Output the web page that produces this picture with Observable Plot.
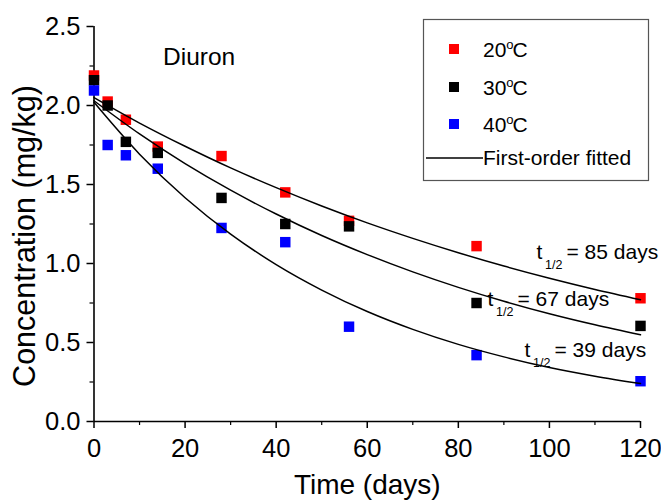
<!DOCTYPE html>
<html><head><meta charset="utf-8">
<script src="https://cdn.jsdelivr.net/npm/d3@7"></script>
<script src="https://cdn.jsdelivr.net/npm/@observablehq/plot@0.6"></script>
<style>
body{margin:0;background:#fff;}
#wrap{position:relative;width:661px;height:500px;font-family:"Liberation Sans",Arial,sans-serif;}
#wrap svg{position:absolute;left:0;top:0;}
</style></head><body><div id="wrap"></div>
<script>
// measured data
const days = [0, 3, 7, 14, 28, 42, 56, 84, 120];
const c20 = [2.19, 2.025, 1.91, 1.74, 1.68, 1.45, 1.27, 1.11, 0.78];
const c30 = [2.16, 2.00, 1.77, 1.70, 1.415, 1.25, 1.235, 0.75, 0.605];
const c40 = [2.095, 1.75, 1.685, 1.60, 1.225, 1.135, 0.60, 0.42, 0.255];
// fitted curves
const fitDays = [0, 10, 20, 30, 40, 50, 60, 70, 80, 90, 100, 110, 120];
const fit20 = [2.05, 1.889, 1.742, 1.605, 1.480, 1.364, 1.257, 1.159, 1.068, 0.984, 0.907, 0.836, 0.771];
const fit30 = [2.03, 1.820, 1.632, 1.464, 1.313, 1.177, 1.056, 0.947, 0.849, 0.761, 0.682, 0.612, 0.549];
const fit40 = [2.02, 1.692, 1.416, 1.186, 0.993, 0.832, 0.696, 0.583, 0.488, 0.409, 0.342, 0.287, 0.240];
const seriesNames = ["20", "30", "40"];
const halfLives = ["85", "67", "39"];
const xTicks = [0, 20, 40, 60, 80, 100, 120];
const xMinor = [10, 30, 50, 70, 90, 110];
const yTicks = [0, 0.5, 1.0, 1.5, 2.0, 2.5];
const yMinor = [0.25, 0.75, 1.25, 1.75, 2.25];
const xTitle = "Time (days)";
const yTitle = "Concentration (mg/kg)";
const chartLabel = "Diuron";
const fitLabel = "First-order fitted";

const colors = ["#ff0000", "#000000", "#0000ff"];
const measured = [c20, c30, c40];
const fits = [fit20, fit30, fit40];

const points = [];
measured.forEach((arr, s) => arr.forEach((v, i) => points.push({s, t: days[i], v})));
const curves = [];
fits.forEach((arr, s) => arr.forEach((v, i) => curves.push({s, t: fitDays[i], v})));

// annotation offsets (pixels) relative to the end of each fitted curve
const annOff = [{dx: -104, dy: -41}, {dx: -153, dy: -29}, {dx: -116, dy: -27}];
const font = "Liberation Sans, Arial, sans-serif";

const annMarks = [];
halfLives.forEach((h, s) => {
  const end = [{t: fitDays[fitDays.length - 1], v: fits[s][fits[s].length - 1]}];
  const o = annOff[s];
  annMarks.push(Plot.text(end, {x: "t", y: "v", text: () => "t", textAnchor: "start", lineAnchor: "bottom", dx: o.dx, dy: o.dy, fontSize: 21}));
  annMarks.push(Plot.text(end, {x: "t", y: "v", text: () => "1/2", textAnchor: "start", lineAnchor: "bottom", dx: o.dx + 8.5, dy: o.dy + 10, fontSize: 12.5}));
  annMarks.push(Plot.text(end, {x: "t", y: "v", text: () => "= " + h + " days", textAnchor: "start", lineAnchor: "bottom", dx: o.dx + 30, dy: o.dy, fontSize: 21}));
});

const plot = Plot.plot({
  width: 661, height: 500,
  marginLeft: 93.5, marginRight: 21, marginTop: 26, marginBottom: 79,
  x: {domain: [0, 120]},
  y: {domain: [0, 2.5]},
  style: {fontFamily: font, color: "#000", background: "white", overflow: "visible"},
  marks: [
    Plot.axisX({ticks: xTicks, tickSize: 7, tickPadding: 10, fontSize: 25.5, label: null, strokeWidth: 1.5, tickFormat: d => String(d)}),
    Plot.axisX({ticks: xMinor, tickSize: 4, label: null, strokeWidth: 1.2, tickFormat: () => ""}),
    Plot.axisY({ticks: yTicks, tickSize: 7, tickPadding: 6.5, fontSize: 25.5, label: null, strokeWidth: 1.5, tickFormat: d3.format(".1f")}),
    Plot.axisY({ticks: yMinor, tickSize: 4, label: null, strokeWidth: 1.2, tickFormat: () => ""}),
    Plot.ruleX([0], {strokeWidth: 1.6}),
    Plot.ruleY([0], {strokeWidth: 1.6}),
    Plot.dot(points, {x: "t", y: "v", symbol: "square", r: 5.9, fill: d => colors[d.s], stroke: null}),
    Plot.line(curves, {x: "t", y: "v", z: "s", curve: "catmull-rom", stroke: "#000", strokeWidth: 1.5}),
    Plot.text([xTitle], {frameAnchor: "bottom", lineAnchor: "bottom", dy: 72, fontSize: 28}),
    Plot.text([yTitle], {frameAnchor: "left", textAnchor: "middle", rotate: -90, lineAnchor: "middle", dx: -68.5, dy: 12, fontSize: 30.5}),
    Plot.text([chartLabel], {frameAnchor: "top-left", textAnchor: "start", lineAnchor: "bottom", dx: 69, dy: 38.5, fontSize: 24.5}),
    ...annMarks
  ]
});
const wrap = document.getElementById("wrap");
wrap.appendChild(plot);

// legend overlay
const leg = d3.select(wrap).append("svg").attr("width", 661).attr("height", 500)
  .style("pointer-events", "none").attr("font-family", font);
leg.append("rect").attr("x", 423.5).attr("y", 19.5).attr("width", 225).attr("height", 161)
  .attr("fill", "white").attr("stroke", "#555").attr("stroke-width", 1.2);
const rowY = [49, 87, 124];
seriesNames.forEach((name, i) => {
  leg.append("rect").attr("x", 449).attr("y", rowY[i] - 5).attr("width", 10).attr("height", 10).attr("fill", colors[i]);
  const t = leg.append("text").attr("x", 483).attr("y", rowY[i] + 8).attr("font-size", 21).attr("fill", "#000");
  t.append("tspan").text(name);
  t.append("tspan").attr("font-size", 13).attr("dy", -8).text("o");
  t.append("tspan").attr("font-size", 21).attr("dy", 8).attr("dx", -1).text("C");
});
leg.append("line").attr("x1", 426).attr("x2", 483).attr("y1", 158).attr("y2", 158).attr("stroke", "#000").attr("stroke-width", 1.5);
leg.append("text").attr("x", 483).attr("y", 165).attr("font-size", 21).attr("fill", "#000").text(fitLabel);
</script></body></html>
